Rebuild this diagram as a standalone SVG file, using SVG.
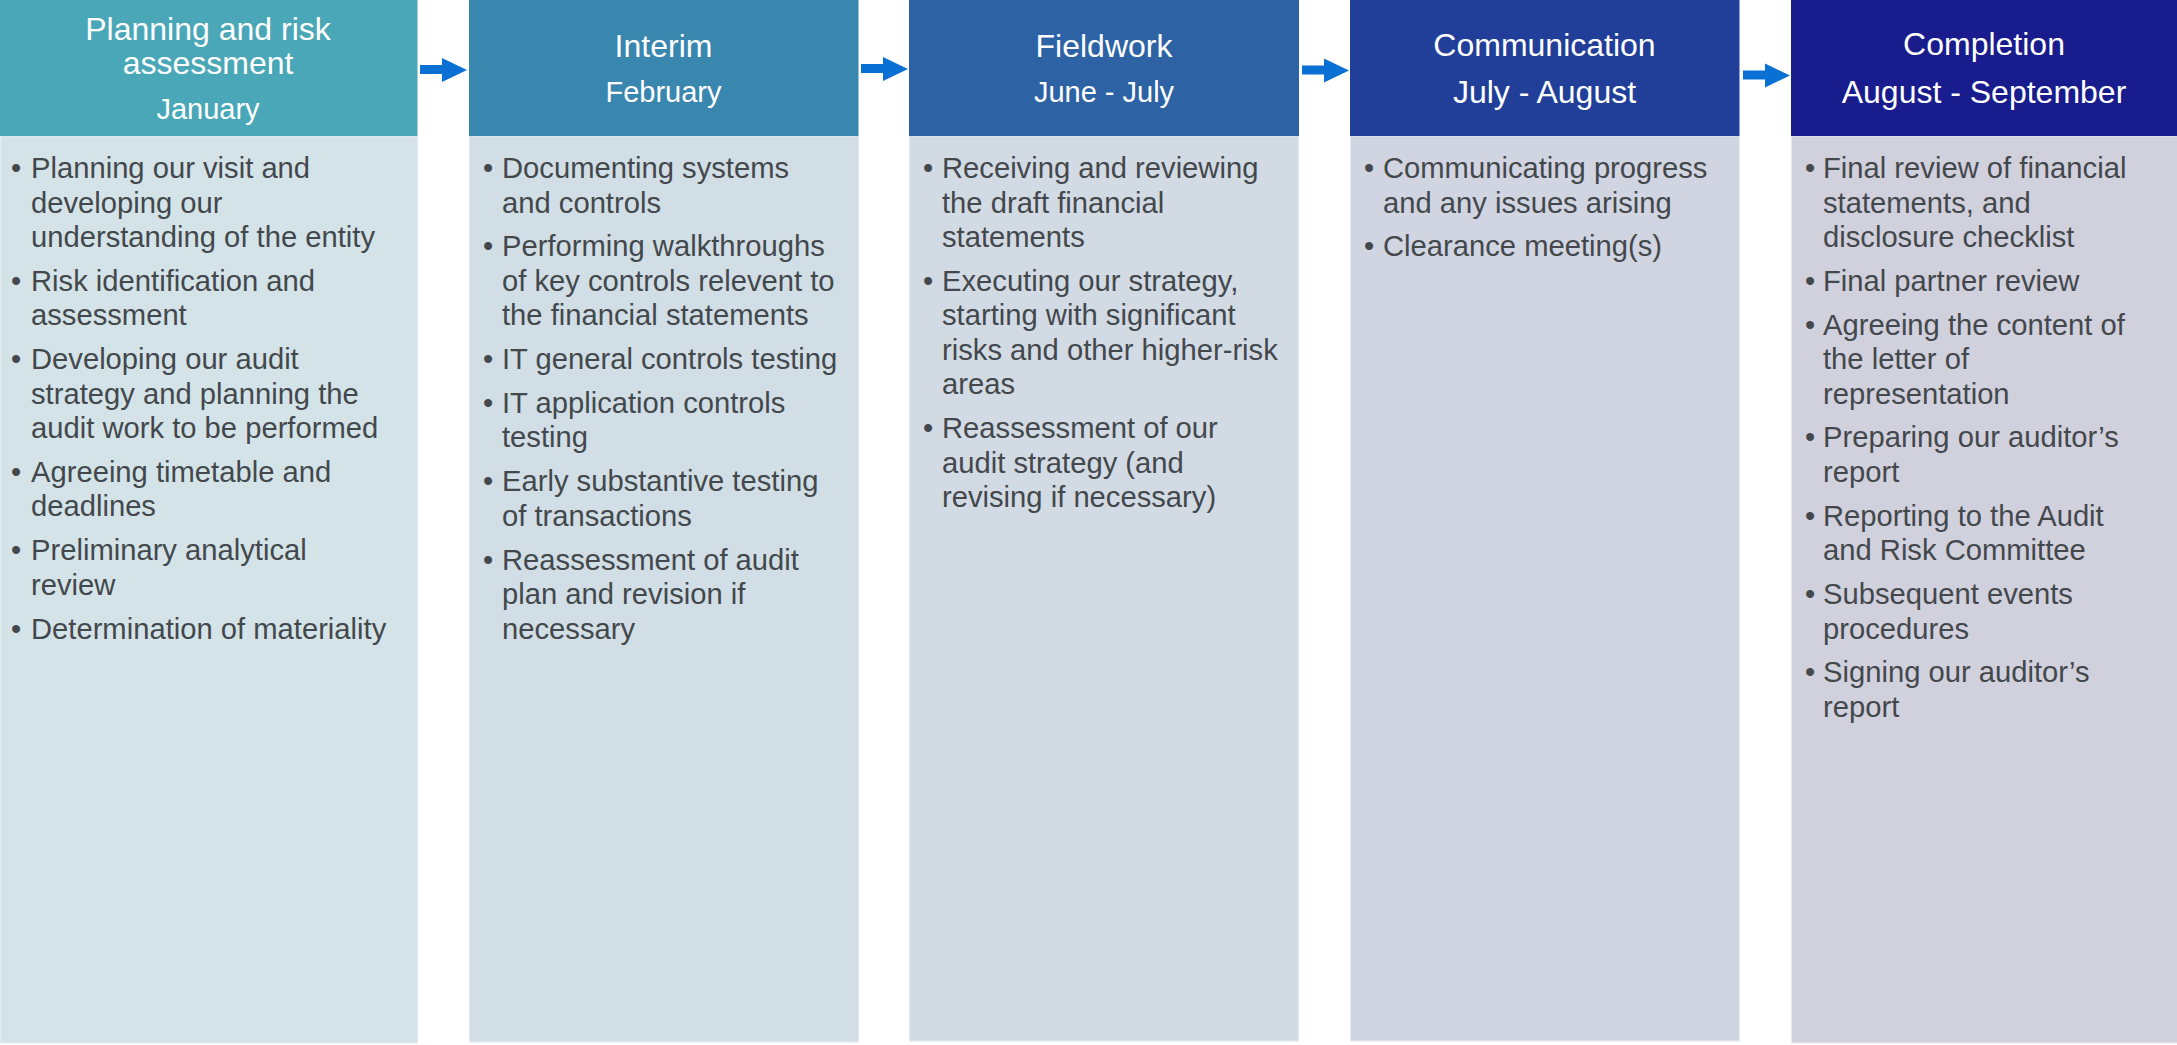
<svg xmlns="http://www.w3.org/2000/svg" width="2177" height="1045" viewBox="0 0 2177 1045">
<defs>
<style>
.h{font-family:"Liberation Sans",Arial,sans-serif;fill:#ffffff;text-anchor:middle}
.t{font-size:32px}
.s{font-size:29px}
.b{font-family:"Liberation Sans",Arial,sans-serif;font-size:29.2px;fill:#43484c}
.body{stroke:#e4ecf0;stroke-width:1}
.arr{fill:#0a70d4}
</style>
<polygon id="arrow" points="0,-5 22,-5 22,-12 47,0 22,12 22,4 0,4"/>
</defs>
<rect width="2177" height="1045" fill="#ffffff"/>

<g id="phase-planning">
<rect class="body" x="0.5" y="136" width="417" height="907" fill="#d4e3e8"/>
<rect x="0" y="0" width="417.5" height="136" fill="#4aa7b7"/>
<text class="h t" x="208" y="40">Planning and risk</text>
<text class="h t" x="208" y="74">assessment</text>
<text class="h s" x="208" y="119">January</text>
<g class="b">
<text x="11" y="178">•</text>
<text x="31" y="178">Planning our visit and</text>
<text x="31" y="212.5">developing our</text>
<text x="31" y="247">understanding of the entity</text>
<text x="11" y="290.8">•</text>
<text x="31" y="290.8">Risk identification and</text>
<text x="31" y="325.3">assessment</text>
<text x="11" y="369.1">•</text>
<text x="31" y="369.1">Developing our audit</text>
<text x="31" y="403.6">strategy and planning the</text>
<text x="31" y="438.1">audit work to be performed</text>
<text x="11" y="481.9">•</text>
<text x="31" y="481.9">Agreeing timetable and</text>
<text x="31" y="516.4">deadlines</text>
<text x="11" y="560.2">•</text>
<text x="31" y="560.2">Preliminary analytical</text>
<text x="31" y="594.7">review</text>
<text x="11" y="638.5">•</text>
<text x="31" y="638.5">Determination of materiality</text>
</g>
</g>

<g id="phase-interim">
<rect class="body" x="469.5" y="136" width="389" height="906" fill="#d1dee5"/>
<rect x="469" y="0" width="389.5" height="136" fill="#3986ae"/>
<text class="h t" x="663.5" y="57">Interim</text>
<text class="h s" x="663.5" y="102">February</text>
<g class="b">
<text x="483" y="178">•</text>
<text x="502" y="178">Documenting systems</text>
<text x="502" y="212.5">and controls</text>
<text x="483" y="256.3">•</text>
<text x="502" y="256.3">Performing walkthroughs</text>
<text x="502" y="290.8">of key controls relevent to</text>
<text x="502" y="325.3">the financial statements</text>
<text x="483" y="369.1">•</text>
<text x="502" y="369.1">IT general controls testing</text>
<text x="483" y="412.9">•</text>
<text x="502" y="412.9">IT application controls</text>
<text x="502" y="447.4">testing</text>
<text x="483" y="491.2">•</text>
<text x="502" y="491.2">Early substantive testing</text>
<text x="502" y="525.7">of transactions</text>
<text x="483" y="569.5">•</text>
<text x="502" y="569.5">Reassessment of audit</text>
<text x="502" y="604">plan and revision if</text>
<text x="502" y="638.5">necessary</text>
</g>
</g>

<g id="phase-fieldwork">
<rect class="body" x="909.5" y="136" width="389" height="905" fill="#d2dae4"/>
<rect x="909" y="0" width="390" height="136" fill="#2d63a5"/>
<text class="h t" x="1104" y="57">Fieldwork</text>
<text class="h s" x="1104" y="102">June - July</text>
<g class="b">
<text x="923" y="178">•</text>
<text x="942" y="178">Receiving and reviewing</text>
<text x="942" y="212.5">the draft financial</text>
<text x="942" y="247">statements</text>
<text x="923" y="290.8">•</text>
<text x="942" y="290.8">Executing our strategy,</text>
<text x="942" y="325.3">starting with significant</text>
<text x="942" y="359.8">risks and other higher-risk</text>
<text x="942" y="394.3">areas</text>
<text x="923" y="438.1">•</text>
<text x="942" y="438.1">Reassessment of our</text>
<text x="942" y="472.6">audit strategy (and</text>
<text x="942" y="507.1">revising if necessary)</text>
</g>
</g>

<g id="phase-communication">
<rect class="body" x="1350.5" y="136" width="389" height="905" fill="#d1d5e1"/>
<rect x="1350" y="0" width="389.5" height="136" fill="#213f98"/>
<text class="h t" x="1544.5" y="56">Communication</text>
<text class="h t" x="1544.5" y="103">July - August</text>
<g class="b">
<text x="1364" y="178">•</text>
<text x="1383" y="178">Communicating progress</text>
<text x="1383" y="212.5">and any issues arising</text>
<text x="1364" y="256.3">•</text>
<text x="1383" y="256.3">Clearance meeting(s)</text>
</g>
</g>

<g id="phase-completion">
<rect class="body" x="1791.5" y="136" width="386" height="907" fill="#d1d0dd"/>
<rect x="1791" y="0" width="386" height="136" fill="#181c8c"/>
<text class="h t" x="1984" y="55">Completion</text>
<text class="h t" x="1984" y="103">August - September</text>
<g class="b">
<text x="1805" y="178">•</text>
<text x="1823" y="178">Final review of financial</text>
<text x="1823" y="212.5">statements, and</text>
<text x="1823" y="247">disclosure checklist</text>
<text x="1805" y="290.8">•</text>
<text x="1823" y="290.8">Final partner review</text>
<text x="1805" y="334.6">•</text>
<text x="1823" y="334.6">Agreeing the content of</text>
<text x="1823" y="369.1">the letter of</text>
<text x="1823" y="403.6">representation</text>
<text x="1805" y="447.4">•</text>
<text x="1823" y="447.4">Preparing our auditor’s</text>
<text x="1823" y="481.9">report</text>
<text x="1805" y="525.7">•</text>
<text x="1823" y="525.7">Reporting to the Audit</text>
<text x="1823" y="560.2">and Risk Committee</text>
<text x="1805" y="604">•</text>
<text x="1823" y="604">Subsequent events</text>
<text x="1823" y="638.5">procedures</text>
<text x="1805" y="682.3">•</text>
<text x="1823" y="682.3">Signing our auditor’s</text>
<text x="1823" y="716.8">report</text>
</g>
</g>

<g id="connectors" class="arr">
<use href="#arrow" transform="translate(420,70)"/>
<use href="#arrow" transform="translate(861,69)"/>
<use href="#arrow" transform="translate(1302,70.5)"/>
<use href="#arrow" transform="translate(1743,75.5)"/>
</g>
</svg>
